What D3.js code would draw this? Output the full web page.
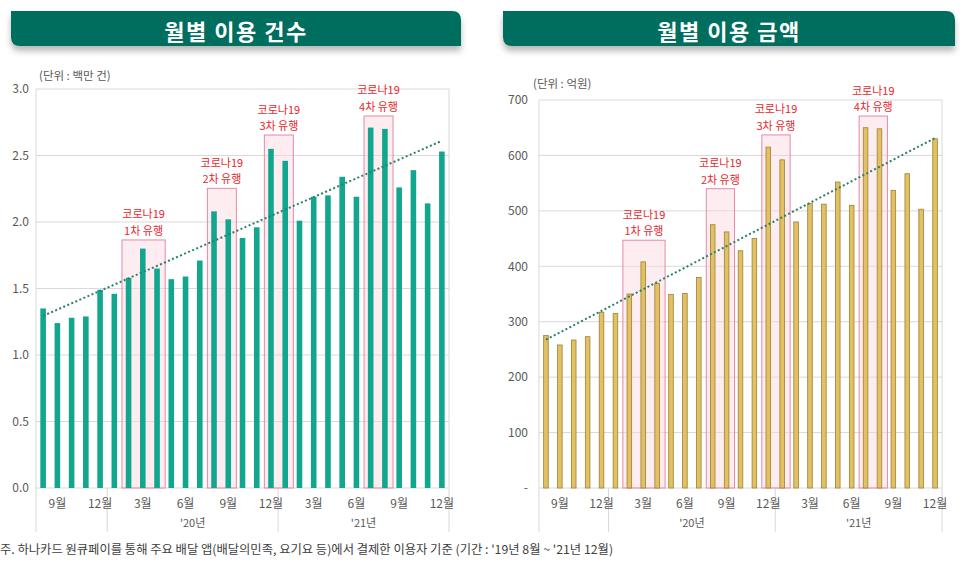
<!DOCTYPE html>
<html><head><meta charset="utf-8">
<script src="https://cdn.jsdelivr.net/npm/d3@7"></script>
<style>
html,body{margin:0;padding:0;background:#fff;}
svg{display:block;font-family:"Noto Sans CJK KR","Noto Sans",sans-serif;}
</style></head>
<body>
<svg id="c" width="960" height="561"></svg>
<script>
// ---- data ----
const months = ["2019-08","2019-09","2019-10","2019-11","2019-12",
  "2020-01","2020-02","2020-03","2020-04","2020-05","2020-06","2020-07","2020-08","2020-09","2020-10","2020-11","2020-12",
  "2021-01","2021-02","2021-03","2021-04","2021-05","2021-06","2021-07","2021-08","2021-09","2021-10","2021-11","2021-12"];
const countValues = [1.35,1.24,1.28,1.29,1.49,1.46,1.58,1.80,1.65,1.57,1.59,1.71,2.08,2.02,1.88,1.96,2.55,
  2.46,2.01,2.19,2.20,2.34,2.19,2.71,2.70,2.26,2.39,2.14,2.53];
const amountValues = [275,258,267,273,317,315,350,408,369,349,351,380,475,462,428,450,615,
  592,480,513,512,552,510,650,648,537,567,503,630];
const countTicks = [0,0.5,1.0,1.5,2.0,2.5,3.0];
const amountTicks = [0,100,200,300,400,500,600,700];
const monthTickLabels = ["9월","12월","3월","6월","9월","12월","3월","6월","9월","12월"];
const monthTickCats = ["2019-09","2019-12","2020-03","2020-06","2020-09","2020-12","2021-03","2021-06","2021-09","2021-12"];
const yearLabels = ["'20년","'21년"];
const yearFirst = ["2020-01","2021-01"];
const yearLast = ["2020-12","2021-12"];
const waveNames = ["1차 유행","2차 유행","3차 유행","4차 유행"];
const waveFrom = ["2020-02","2020-08","2020-12","2021-07"];
const waveTo = ["2020-04","2020-09","2021-01","2021-08"];
const countBoxTop = [1.865,2.253,2.654,2.797];
const amountBoxTop = [447,540,637,671];
const titles = ["월별 이용 건수","월별 이용 금액"];
const units = ["(단위 : 백만 건)","(단위 : 억원)"];
const note = "주. 하나카드 원큐페이를 통해 주요 배달 앱(배달의민족, 요기요 등)에서 결제한 이용자 기준 (기간 : '19년 8월 ~ '21년 12월)";

const svg = d3.select("#c");
const defs = svg.append("defs");
const f = defs.append("filter").attr("id","sh").attr("x","-5%").attr("y","-30%").attr("width","110%").attr("height","190%");
f.append("feDropShadow").attr("dx",0).attr("dy",5).attr("stdDeviation",3).attr("flood-color","#000").attr("flood-opacity",0.28);

function header(x0,x1,y0,y1,text){
  const r=9;
  const p = `M${x0},${y0} L${x1-r},${y0} Q${x1},${y0} ${x1},${y0+r} L${x1},${y1} L${x0+r},${y1} Q${x0},${y1} ${x0},${y1-r} Z`;
  svg.append("path").attr("d",p).attr("fill","#066e5f").attr("filter","url(#sh)");
  svg.append("text").attr("x",(x0+x1)/2).attr("y",(y0+y1)/2+1).attr("text-anchor","middle")
    .attr("dominant-baseline","central").attr("fill","#fff").attr("font-size",22).attr("font-weight",700)
    .attr("letter-spacing",1.5).text(text);
}

function chart(opt){
  const {L,R,T,B,values,ticks,fmt,max,fill,stroke,bw,boxTop,unit,unitX,unitY,labX} = opt;
  const x = d3.scaleBand().domain(months).range([L,R]).padding(0);
  const y = d3.scaleLinear().domain([0,max]).range([B,T]);
  const g = svg.append("g");
  g.selectAll(".gl").data(ticks).enter().append("line")
    .attr("x1",L).attr("x2",R).attr("y1",d=>y(d)).attr("y2",d=>y(d))
    .attr("stroke","#d9d9d9").attr("stroke-width",1);
  const ext = B+44;
  [[L,T,ext],[R,T,ext]].forEach(([xx,a,b])=>g.append("line").attr("x1",xx).attr("x2",xx).attr("y1",a).attr("y2",b).attr("stroke","#d9d9d9"));
  yearFirst.forEach(c=>g.append("line").attr("x1",x(c)).attr("x2",x(c)).attr("y1",B).attr("y2",ext).attr("stroke","#d9d9d9"));
  const ya = d3.axisLeft(y).tickValues(ticks).tickFormat(fmt).tickSize(0).tickPadding(0);
  const yg = g.append("g").attr("transform",`translate(${labX},0)`).call(ya);
  yg.select(".domain").remove();
  yg.selectAll("text").attr("fill","#595959").attr("font-size",12).attr("font-family","'Noto Sans CJK KR',sans-serif");
  const bx = waveFrom.map((c,i)=>({x0:x(c)+0.5,x1:x(waveTo[i])+x.bandwidth()+1,top:y(boxTop[i]),name:waveNames[i]}));
  g.selectAll(".box").data(bx).enter().append("rect")
    .attr("x",d=>d.x0).attr("y",d=>d.top).attr("width",d=>d.x1-d.x0).attr("height",d=>B-d.top)
    .attr("fill","rgba(250,215,225,0.45)").attr("stroke","#e48aa4").attr("stroke-width",1);
  g.selectAll(".bar").data(values).enter().append("rect")
    .attr("x",(d,i)=>x(months[i])+x.bandwidth()/2-bw/2).attr("width",bw)
    .attr("y",d=>y(d)).attr("height",d=>B-y(d))
    .attr("fill",fill).attr("stroke",stroke).attr("stroke-width",stroke==="none"?0:0.8);
  const n=values.length, xs=d3.range(n);
  const mx=d3.mean(xs), my=d3.mean(values);
  const sl=d3.sum(xs,(k)=>(k-mx)*(values[k]-my))/d3.sum(xs,k=>(k-mx)*(k-mx));
  const it=my-sl*mx;
  const cx=k=>x(months[k])+x.bandwidth()/2;
  g.append("line").attr("x1",cx(0)).attr("y1",y(it)).attr("x2",cx(n-1)).attr("y2",y(it+sl*(n-1)))
    .attr("stroke","#2a7f6f").attr("stroke-width",2).attr("stroke-dasharray","2,2.4");
  bx.forEach(d=>{
    const cxm=(d.x0+d.x1)/2;
    g.append("text").attr("x",cxm).attr("y",d.top-21.5).attr("text-anchor","middle").attr("fill","#e8262c").attr("font-size",11).text("코로나19");
    g.append("text").attr("x",cxm).attr("y",d.top-5).attr("text-anchor","middle").attr("fill","#e8262c").attr("font-size",11).text(d.name);
  });
  monthTickCats.forEach((c,i)=>g.append("text").attr("x",x(c)+x.bandwidth()/2).attr("y",B+14).attr("text-anchor","middle")
    .attr("dominant-baseline","central").attr("fill","#595959").attr("font-size",12).text(monthTickLabels[i]));
  yearLabels.forEach((t,i)=>g.append("text").attr("x",(x(yearFirst[i])+x(yearLast[i])+x.bandwidth())/2).attr("y",B+34)
    .attr("text-anchor","middle").attr("dominant-baseline","central").attr("fill","#595959").attr("font-size",11).text(t));
  g.append("text").attr("x",unitX).attr("y",unitY).attr("dominant-baseline","central").attr("fill","#595959")
    .attr("font-size",11.5).text(unit);
}

header(11,461,11,46,titles[0]);
header(503,955,11,46,titles[1]);

chart({L:36,R:449,T:89,B:488,values:countValues,ticks:countTicks,fmt:d3.format(".1f"),max:3,
  fill:"#12a68f",stroke:"none",bw:5.6,boxTop:countBoxTop,unit:units[0],unitX:39,unitY:75,labX:29});
chart({L:539,R:942,T:100,B:488,values:amountValues,ticks:amountTicks,fmt:d=>d===0?"-":String(d),max:700,
  fill:"#e3c062",stroke:"#9a8236",bw:4.6,boxTop:amountBoxTop,unit:units[1],unitX:533,unitY:83,labX:528});

svg.append("text").attr("x",0).attr("y",549).attr("dominant-baseline","central").attr("fill","#404040")
  .attr("font-size",12.3).text(note);
</script>
</body></html>
